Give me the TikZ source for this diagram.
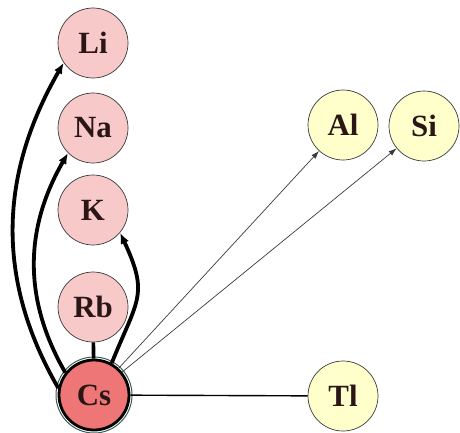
\documentclass[tikz,border=0pt]{standalone}
\usepackage{fontspec}
\setmainfont{Liberation Serif}
\usepackage{xcolor}
\usepackage{tikz}
\usetikzlibrary{arrows.meta}
\definecolor{alkalipink}{HTML}{F8C9C9}
\definecolor{cesiumred}{HTML}{EE7676}
\definecolor{metalyellow}{HTML}{FFFFCC}
\definecolor{ringgray}{HTML}{3A3A3A}
\definecolor{ringteal}{HTML}{3E5E55}
\definecolor{labelink}{HTML}{2A1616}
\tikzset{
  atom/.style={circle,draw=ringgray,line width=0.7bp,minimum size=70bp,inner sep=0pt,
    text=labelink,font=\fontsize{31}{34}\selectfont\bfseries},
  alkali/.style={atom,fill=alkalipink},
  metal/.style={atom,fill=metalyellow},
  boldarrow/.style={-{Latex[length=11pt,width=9pt]},line width=3.8bp,black},
  thinarrow/.style={-{Latex[length=8pt,width=5.5pt]},line width=0.7bp,ringgray},
  bond/.style={line width=3.6bp,black},
  thinbond/.style={line width=1.4bp,black}
}

\begin{document}
\begin{tikzpicture}[x=1bp,y=1bp]
  \useasboundingbox (0,0) rectangle (460,432);
  % alkali column
  \foreach \name/\y in {Li/389,Na/304,K/222,Rb/125}{
    \node[alkali] (\name) at (93,\y) {\name};
  }
  \node[atom,fill=cesiumred,draw=black,line width=2.8bp] (Cs) at (94,37) {Cs};
  \draw[ringteal,line width=1bp] (Cs.center) circle (38);
  % other elements
  \node[metal] (Al) at (343,307) {Al};
  \node[metal] (Si) at (424,306) {Si};
  \node[metal] (Tl) at (343,36) {Tl};
  % links
  \draw[bond] (Rb) -- (Cs);
  \draw[thinbond] (Cs) -- (Tl);
  \draw[boldarrow] (Cs.169) to[out=120,in=240] (Li.214);
  \draw[boldarrow] (Cs.142) to[out=120,in=240] (Na.225);
  \draw[boldarrow] (Cs.61) to[out=68,in=295,looseness=1.35] (K.320);
  \draw[thinarrow] (Cs) -- (Al);
  \draw[thinarrow] (Cs) -- (Si);
\end{tikzpicture}
\end{document}
